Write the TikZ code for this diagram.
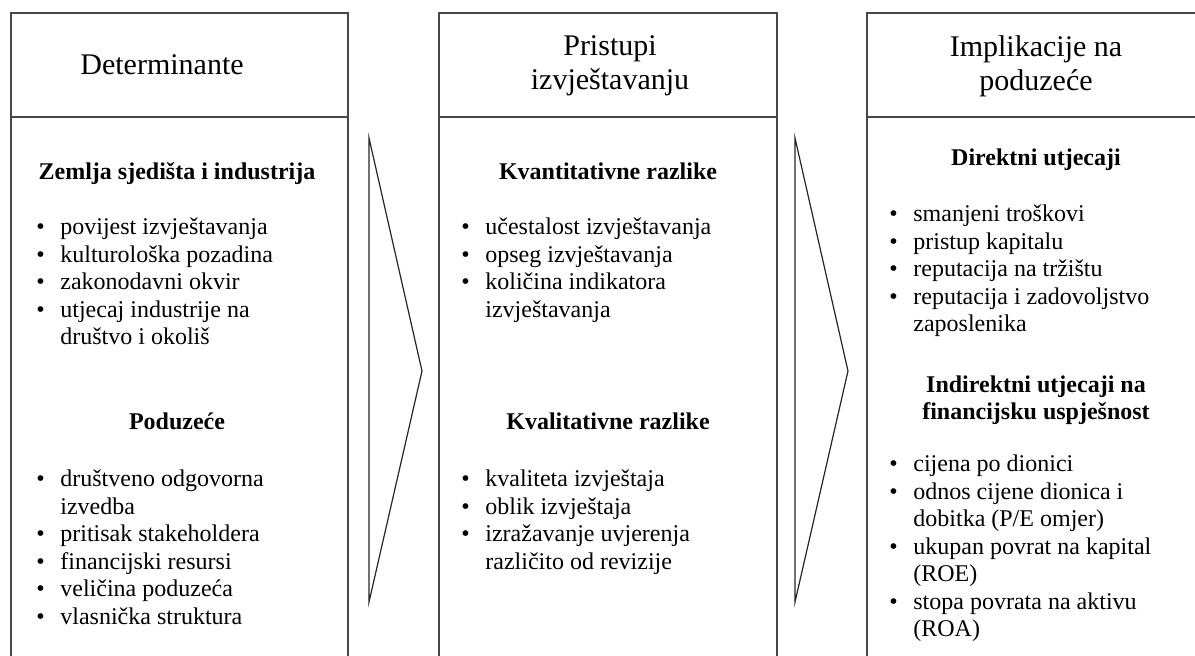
\documentclass[tikz,border=0pt]{standalone}
\usepackage{fontspec}
\setmainfont{Liberation Serif}
% bullet list: one row per printed line, bullet column 12pt wide
\newcommand{\blist}[1]{\begin{tabular}[t]{@{}l@{}l@{}}#1\end{tabular}}
\newcommand{\bul}{\makebox[12pt][l]{\textbullet}}
\newcommand{\clines}[1]{\begin{tabular}[t]{@{}c@{}}#1\end{tabular}}
\begin{document}
\begin{tikzpicture}[x=0.5pt,y=-0.5pt,
  frame/.style={draw=black!72, line width=1pt, anchor=north west, inner sep=0pt, outer sep=0pt},
  headtext/.style={font=\fontsize{15}{17}\selectfont, inner sep=0pt, anchor=base},
  subhead/.style={font=\fontsize{12}{13.3}\selectfont\bfseries, inner sep=0pt, anchor=base},
  bullets/.style={font=\fontsize{12}{13.75}\selectfont, inner sep=0pt, anchor=base west},
  chevron/.style={draw=black!85, line width=0.6pt, line join=miter}]
\useasboundingbox (0,0) rectangle (1195,656);
\clip (0,0) rectangle (1195,656);
\fill[white] (0,0) rectangle (1195,656);

% column frames: header cell and body cell
\node[frame, minimum width=168.5pt, minimum height=52pt] (h1) at (11,13) {};
\node[frame, minimum width=168.5pt, minimum height=290pt] (b1) at (11,117) {};
\node[frame, minimum width=169pt, minimum height=52pt] (h2) at (439,13) {};
\node[frame, minimum width=169pt, minimum height=290pt] (b2) at (439,117) {};
\node[frame, minimum width=169pt, minimum height=52pt] (h3) at (867,13) {};
\node[frame, minimum width=169pt, minimum height=290pt] (b3) at (867,117) {};

% chevrons between the columns
\draw[chevron] (369,138) -- (422,371) -- (369,602) -- cycle;
\draw[chevron] (795,138) -- (848,371) -- (795,602) -- cycle;

% headings
\node[headtext] (t1) at (162,75) {Determinante};
\node[headtext] (t2) at (610,56) {\clines{Pristupi\\izvještavanju}};
\node[headtext] (t3) at (1036,57) {\clines{Implikacije na\\poduzeće}};

% first column
\node[subhead] (s11) at (177,180) {Zemlja sjedišta i industrija};
\node[bullets] (l11) at (36,235) {\blist{
  \bul & povijest izvještavanja\\
  \bul & kulturološka pozadina\\
  \bul & zakonodavni okvir\\
  \bul & utjecaj industrije na\\
       & društvo i okoliš}};
\node[subhead] (s12) at (177,430) {Poduzeće};
\node[bullets] (l12) at (36,487) {\blist{
  \bul & društveno odgovorna\\
       & izvedba\\
  \bul & pritisak stakeholdera\\
  \bul & financijski resursi\\
  \bul & veličina poduzeća\\
  \bul & vlasnička struktura}};

% second column
\node[subhead] (s21) at (608,180) {Kvantitativne razlike};
\node[bullets] (l21) at (461,235) {\blist{
  \bul & učestalost izvještavanja\\
  \bul & opseg izvještavanja\\
  \bul & količina indikatora\\
       & izvještavanja}};
\node[subhead] (s22) at (608,430) {Kvalitativne razlike};
\node[bullets] (l22) at (461,487) {\blist{
  \bul & kvaliteta izvještaja\\
  \bul & oblik izvještaja\\
  \bul & izražavanje uvjerenja\\
       & različito od revizije}};

% third column
\node[subhead] (s31) at (1036,166) {Direktni utjecaji};
\node[bullets] (l31) at (889,222) {\blist{
  \bul & smanjeni troškovi\\
  \bul & pristup kapitalu\\
  \bul & reputacija na tržištu\\
  \bul & reputacija i zadovoljstvo\\
       & zaposlenika}};
\node[subhead] (s32) at (1036,393) {\clines{Indirektni utjecaji na\\financijsku uspješnost}};
\node[bullets] (l32) at (889,472) {\blist{
  \bul & cijena po dionici\\
  \bul & odnos cijene dionica i\\
       & dobitka (P/E omjer)\\
  \bul & ukupan povrat na kapital\\
       & (ROE)\\
  \bul & stopa povrata na aktivu\\
       & (ROA)}};
\end{tikzpicture}
\end{document}
